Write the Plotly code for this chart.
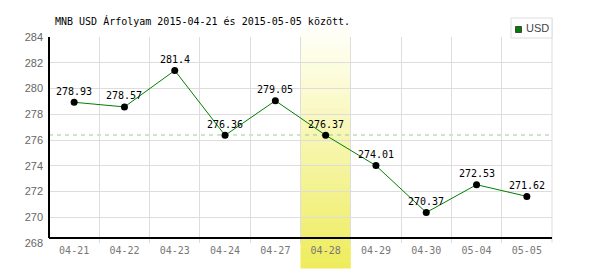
import plotly.graph_objects as go

dates = ["04-21", "04-22", "04-23", "04-24", "04-27", "04-28", "04-29", "04-30", "05-04", "05-05"]
values = [278.93, 278.57, 281.4, 276.36, 279.05, 276.37, 274.01, 270.37, 272.53, 271.62]
label_texts = ["278.93", "278.57", "281.4", "276.36", "279.05", "276.37", "274.01", "270.37", "272.53", "271.62"]
avg_value = 276.39
highlight = "04-28"
y_ticks = [268, 270, 272, 274, 276, 278, 280, 282, 284]
title_text = "MNB USD Árfolyam 2015-04-21 és 2015-05-05 között."
legend_name = "USD"

W, H = 600, 270
L, R, T, B = 49, 552, 37, 243


def px(x):
    return (x - L) / (R - L)


def py(y):
    return (B - y) / (B - T)


fig = go.Figure()
fig.add_trace(go.Scatter(
    x=dates, y=values, mode="lines+markers",
    line=dict(color="#008000", width=1),
    marker=dict(color="black", size=7),
    showlegend=False, hoverinfo="skip", cliponaxis=False,
))

shapes = []
# gradient highlight band (drawn as thin strips)
hi = dates.index(highlight)
top_px, bot_px = 28, 268
n = 48
c0 = (255, 255, 250)
c1 = (238, 236, 92)
for i in range(n):
    f = (i + 0.5) / n
    col = tuple(int(round(c0[k] + (c1[k] - c0[k]) * f)) for k in range(3))
    y0 = top_px + (bot_px - top_px) * i / n
    y1 = top_px + (bot_px - top_px) * (i + 1) / n + 0.6
    shapes.append(dict(type="rect", xref="x", yref="paper", x0=hi - 0.5, x1=hi + 0.5,
                       y0=py(y1), y1=py(y0), fillcolor="rgb(%d,%d,%d)" % col,
                       line=dict(width=0), layer="between"))
# average dashed line
shapes.append(dict(type="line", xref="paper", yref="y", x0=0, x1=1, y0=avg_value, y1=avg_value,
                   line=dict(color="#99cc99", width=1, dash="4px,4px"), layer="below"))
# right border
shapes.append(dict(type="line", xref="paper", yref="paper", x0=1, x1=1, y0=0, y1=py(18),
                   line=dict(color="#dddddd", width=1), layer="below"))
# axes black lines
axis_y = py(238)
shapes.append(dict(type="line", xref="paper", yref="paper", x0=0, x1=1, y0=axis_y, y1=axis_y,
                   line=dict(color="black", width=2), layer="above"))
shapes.append(dict(type="line", xref="paper", yref="paper", x0=0, x1=0, y0=axis_y, y1=1,
                   line=dict(color="black", width=2), layer="above"))
# legend box
shapes.append(dict(type="rect", xref="paper", yref="paper", x0=px(511), x1=px(552), y0=py(38), y1=py(18),
                   line=dict(color="#dddddd", width=1), fillcolor="white", layer="above"))
shapes.append(dict(type="rect", xref="paper", yref="paper", x0=px(515.5), x1=px(521.5), y0=py(32.5), y1=py(26.5),
                   line=dict(color="#444444", width=1), fillcolor="#008000", layer="above"))

annotations = []
for d, v, t in zip(dates, values, label_texts):
    annotations.append(dict(x=d, y=v, text=t, showarrow=False, yshift=11,
                            font=dict(family="DejaVu Sans Mono", size=10, color="black")))
annotations.append(dict(xref="paper", yref="paper", x=px(53), y=py(21), xanchor="left", yanchor="middle",
                        text=title_text, showarrow=False,
                        font=dict(family="DejaVu Sans Mono", size=10, color="black")))
annotations.append(dict(xref="paper", yref="paper", x=px(524), y=py(28.5), xanchor="left", yanchor="middle",
                        text=legend_name, showarrow=False,
                        font=dict(family="Liberation Sans Narrow, Liberation Sans", size=11, color="#444444")))

fig.update_layout(
    width=W, height=H,
    margin=dict(l=L, r=W - R, t=T, b=H - B, pad=0),
    paper_bgcolor="white", plot_bgcolor="white",
    shapes=shapes, annotations=annotations, showlegend=False,
    xaxis=dict(type="category", range=[-0.5, len(dates) - 0.5], tickson="boundaries",
               showgrid=True, gridcolor="#dddddd", gridwidth=1, zeroline=False, showline=False,
               ticks="", tickfont=dict(family="DejaVu Sans Mono", size=10, color="#777777")),
    yaxis=dict(range=[268, 284], tickvals=y_ticks, ticktext=[str(v) for v in y_ticks],
               showgrid=True, gridcolor="#dddddd", gridwidth=1, zeroline=False, showline=False,
               ticks="", ticklabelstandoff=5,
               tickfont=dict(family="Liberation Sans", size=11, color="#666666")),
)

fig.write_html("out.html")
